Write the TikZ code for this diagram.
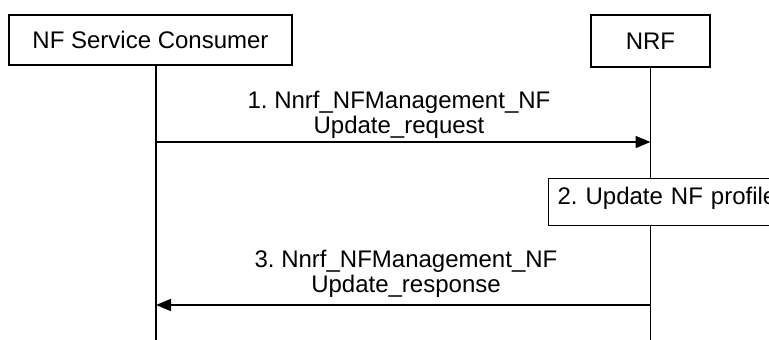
\documentclass[tikz,border=0pt]{standalone}
\usepackage{fontspec}
\setmainfont{Liberation Sans}
\usetikzlibrary{arrows.meta,positioning}
\frenchspacing

\begin{document}
\begin{tikzpicture}[x=1pt,y=-1pt,
    entity/.style={draw, line width=1.2pt, minimum height=50pt, inner sep=0pt,
      font=\fontsize{24}{26}\selectfont},
    lifeline/.style={line width=1.4pt},
    msg/.style={line width=1.6pt, -{Triangle[length=15pt,width=12pt]}},
    msglabel/.style={align=center, font=\fontsize{24}{25}\selectfont},
    action/.style={draw, fill=white, line width=1.2pt, anchor=north west, align=left,
      text width=230pt, inner xsep=9pt, inner ysep=4.5pt, text height=21.5pt,
      text depth=16.5pt, font=\fontsize{24}{26}\selectfont}]
  \useasboundingbox (0,0) rectangle (769,340);
  % entities
  \node[entity, minimum width=283pt] (nfc) at (150.5,40) {NF Service Consumer};
  \node[entity, minimum width=119pt, minimum height=52pt] (nrf) at (650.5,41) {NRF};
  % lifelines
  \coordinate (nfctop) at ([xshift=5.5pt]nfc.south);
  \coordinate (nfcend) at (nfctop |- 0,340);
  \coordinate (nrfend) at (nrf.south |- 0,340);
  \draw[lifeline] (nfctop) -- (nfcend);
  \draw[lifeline] (nrf.south) -- (nrfend);
  % 1. request
  \coordinate (req1) at (nfctop |- 0,142);
  \coordinate (req2) at (nrf.south |- 0,142);
  \draw[msg] (req1) -- (req2);
  \node[msglabel] (reqlbl) at (399,115) {1. Nnrf\_NFManagement\_NF\\Update\_request};
  % 2. local action
  \node[action] (upd) at (548,178) {2. Update NF profile};
  % 3. response
  \coordinate (rsp1) at (nrf.south |- 0,305);
  \coordinate (rsp2) at (nfctop |- 0,305);
  \draw[msg] (rsp1) -- (rsp2);
  \node[msglabel] (rsplbl) at (406,273.5) {3. Nnrf\_NFManagement\_NF\\Update\_response};
\end{tikzpicture}
\end{document}
